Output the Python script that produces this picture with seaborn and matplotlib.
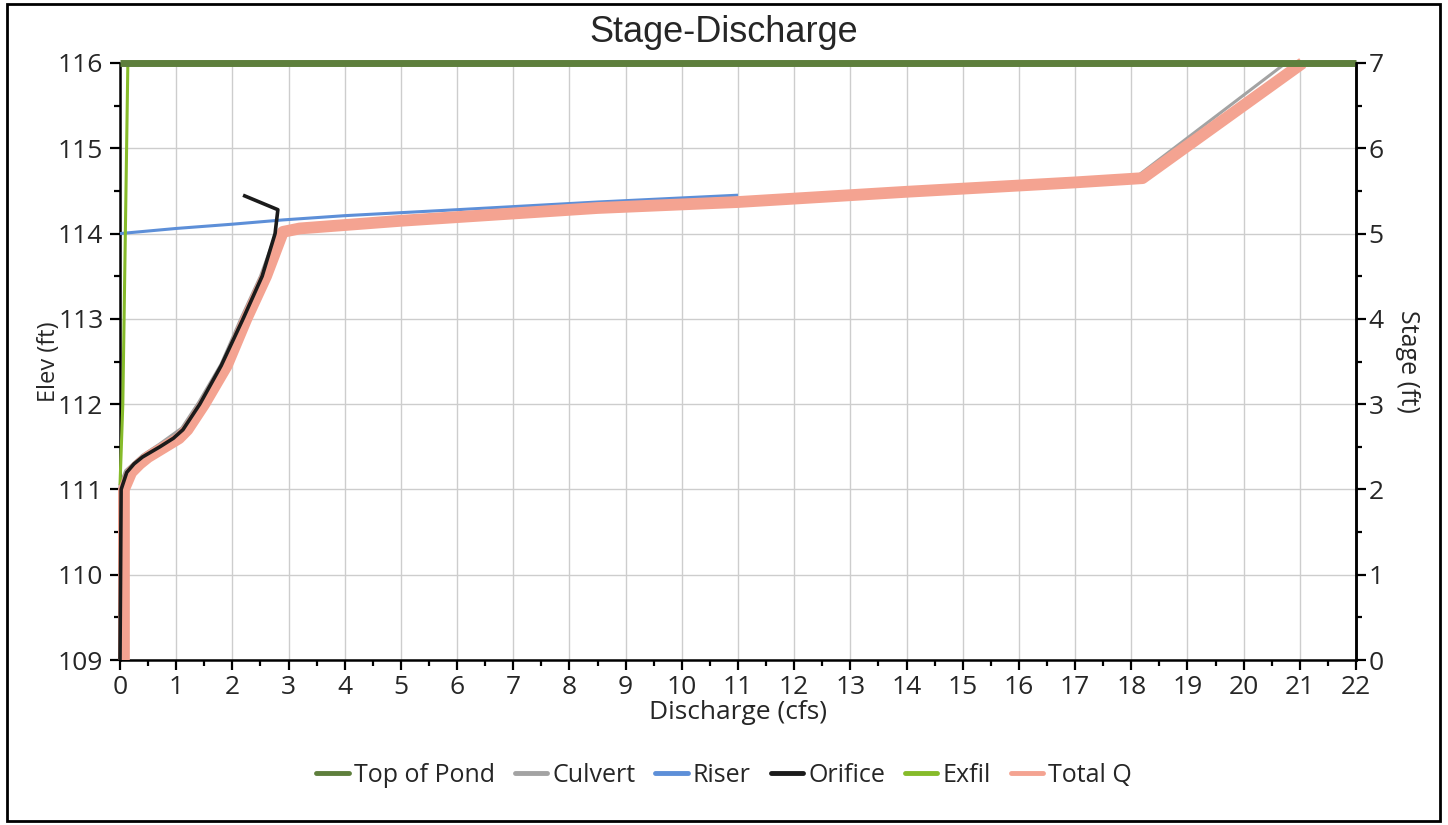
import matplotlib
matplotlib.use("Agg")
import matplotlib.pyplot as plt
import seaborn as sns
import numpy as np
import pandas as pd
from matplotlib.patches import Rectangle
from matplotlib.ticker import MultipleLocator
from matplotlib.lines import Line2D

# ---- data ----
pond_q = [0.0, 22.0]
pond_elev = [116.0, 116.0]

exfil_q = [0.0, 0.05, 0.14]
exfil_elev = [111.05, 112.0, 116.0]

riser_q = [0.0, 1.0, 2.0, 2.9, 4.0, 6.0, 8.5, 11.0]
riser_elev = [114.0, 114.06, 114.11, 114.16, 114.21, 114.28, 114.37, 114.45]

orifice_q = [0.0, 0.02, 0.12, 0.25, 0.4, 0.71, 0.95, 1.12, 1.42, 1.8, 2.19, 2.53, 2.76, 2.81, 2.19]
orifice_elev = [109.0, 111.0, 111.2, 111.3, 111.38, 111.5, 111.6, 111.7, 112.0, 112.45, 113.0, 113.5, 114.0, 114.28, 114.45]

culvert_q = [0.0, 0.0, 0.1, 0.4, 0.7, 1.1, 1.4, 1.8, 2.15, 2.5, 2.75, 2.9, 5.0, 8.5, 11.0, 14.0, 18.1, 20.75]
culvert_elev = [109.0, 111.05, 111.22, 111.4, 111.53, 111.72, 112.02, 112.47, 113.0, 113.5, 113.95, 114.05, 114.17, 114.31, 114.39, 114.51, 114.67, 116.0]

total_q = [0.07, 0.07, 0.2, 0.35, 0.5, 0.8, 1.05, 1.2, 1.5, 1.9, 2.25, 2.6, 2.9, 3.2, 5.0, 8.5, 11.0, 14.0, 17.0, 18.2, 21.05]
total_elev = [109.0, 111.0, 111.2, 111.3, 111.38, 111.5, 111.6, 111.7, 112.0, 112.45, 113.0, 113.5, 114.02, 114.06, 114.15, 114.3, 114.37, 114.49, 114.6, 114.65, 116.0]

series_names = ["Top of Pond", "Culvert", "Riser", "Orifice", "Exfil", "Total Q"]
colors = {"Top of Pond": "#5e7f3c", "Culvert": "#a3a3a3", "Riser": "#5d8fd8",
          "Orifice": "#1b1b1b", "Exfil": "#86bb2a", "Total Q": "#f4a391"}
widths = {"Top of Pond": 5.0, "Culvert": 2.2, "Riser": 2.2, "Orifice": 2.6, "Exfil": 2.2, "Total Q": 8.5}

x_ticks = list(range(0, 23))
elev_ticks = [109, 110, 111, 112, 113, 114, 115, 116]
stage_ticks = [0, 1, 2, 3, 4, 5, 6, 7]

sns.set_theme(style="white")
plt.rcParams['font.family'] = ['Open Sans', 'DejaVu Sans']

fig = plt.figure(figsize=(14.48, 8.25), dpi=100)
ax = fig.add_axes([120/1448, 1-660/825, (1356-120)/1448, (660-63)/825])

ax.grid(True, which="major", color="#cdcdcd", linewidth=1.0)
ax.set_axisbelow(True)

data = {
    "Culvert": (culvert_q, culvert_elev),
    "Riser": (riser_q, riser_elev),
    "Exfil": (exfil_q, exfil_elev),
    "Total Q": (total_q, total_elev),
    "Orifice": (orifice_q, orifice_elev),
    "Top of Pond": (pond_q, pond_elev),
}
zorders = {"Culvert": 3, "Riser": 4, "Exfil": 5, "Total Q": 6, "Orifice": 7, "Top of Pond": 8}
for name, (qx, ey) in data.items():
    df = pd.DataFrame({"q": qx, "e": ey})
    sns.lineplot(data=df, x="q", y="e", sort=False, estimator=None, ax=ax,
                 color=colors[name], linewidth=widths[name], zorder=zorders[name],
                 solid_capstyle="butt", solid_joinstyle="round")
for ln in ax.get_lines():
    ln.set_clip_on(False)

ax.set_xlim(0, 22)
ax.set_ylim(109, 116)
ax.set_xticks(x_ticks)
ax.set_yticks(elev_ticks)
ax.xaxis.set_minor_locator(MultipleLocator(0.5))
ax.yaxis.set_minor_locator(MultipleLocator(0.5))
ax.tick_params(axis="both", which="major", direction="out", length=7, width=1.6,
               color="black", labelsize=19, bottom=True, left=True)
ax.tick_params(axis="x", which="major", pad=4)
ax.tick_params(axis="y", which="major", pad=5)
ax.tick_params(axis="both", which="minor", direction="out", length=4, width=1.6,
               color="black", bottom=True, left=True)
ax.set_xlabel("Discharge (cfs)", fontsize=19, labelpad=0)
ax.set_ylabel("Elev (ft)", fontsize=17, labelpad=-2)
for s in ["left", "bottom"]:
    ax.spines[s].set_color("black")
    ax.spines[s].set_linewidth(1.8)
ax.spines["top"].set_visible(False)
ax.spines["right"].set_color("black")
ax.spines["right"].set_linewidth(1.8)

ax2 = ax.twinx()
ax2.set_ylim(0, 7)
ax2.set_yticks(stage_ticks)
ax2.yaxis.set_minor_locator(MultipleLocator(0.5))
ax2.tick_params(axis="y", which="major", direction="out", length=7, width=1.6, color="black", labelsize=19, right=True, pad=2)
ax2.tick_params(axis="y", which="minor", direction="out", length=4, width=1.6, color="black", right=True)
ax2.set_ylabel("Stage (ft)", fontsize=18, rotation=270, labelpad=26)
ax2.grid(False)
for s in ["top", "left", "bottom"]:
    ax2.spines[s].set_visible(False)
ax2.spines["right"].set_color("black")
ax2.spines["right"].set_linewidth(1.8)

fig.text(0.5, 1-32/825, "Stage-Discharge", ha="center", va="center", fontsize=26,
         family=["Liberation Sans", "DejaVu Sans"])

handles = [Line2D([0], [0], color=colors[n], linewidth=3.5) for n in series_names]
fig.legend(handles, series_names, loc="center", bbox_to_anchor=(0.5, 1-775/825), ncol=6,
           frameon=False, fontsize=18, handlelength=1.3, handletextpad=0.2, columnspacing=0.8)

fig.add_artist(Rectangle((7/1448, 4/825), (1440-7)/1448, (825-8)/825, transform=fig.transFigure,
                         fill=False, edgecolor="black", linewidth=2))

fig.savefig("out.png", dpi=100)
